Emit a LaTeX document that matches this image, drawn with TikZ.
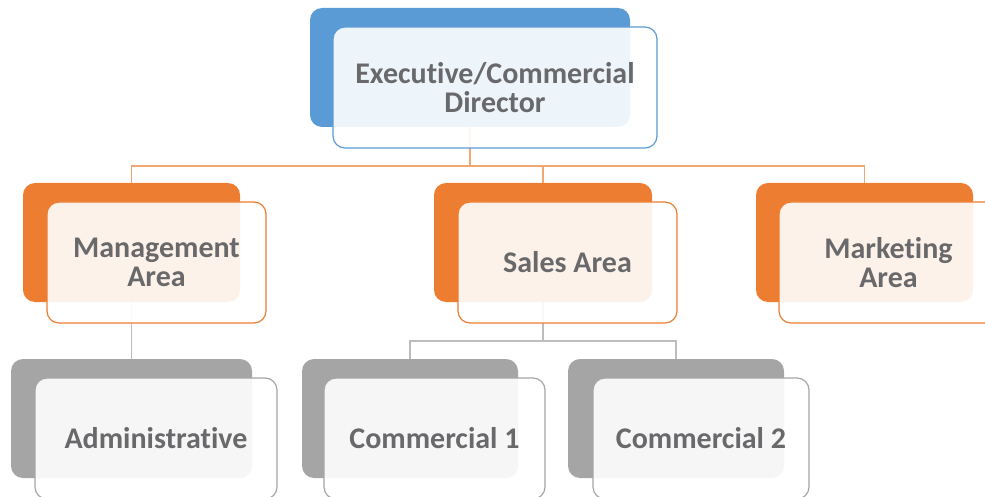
\documentclass[tikz,border=0pt]{standalone}
\usepackage{fontspec}
\setmainfont{Carlito}[Ligatures={NoCommon}]

\definecolor{accblue}{HTML}{5B9BD5}
\definecolor{accorange}{HTML}{ED7D31}
\definecolor{accgray}{HTML}{A5A5A5}
\definecolor{lineorange}{HTML}{F2A672}
\definecolor{linegray}{HTML}{BDBDBD}
\definecolor{txtgray}{HTML}{69696C}

\tikzset{
  backbox/.style={rounded corners=12pt, inner sep=0pt,
    minimum width=217pt, minimum height=119pt},
  frontbox/.style={rounded corners=12pt, draw, line width=1.2pt,
    fill=white, fill opacity=0.9, text opacity=1, text=txtgray,
    minimum width=219pt, minimum height=121pt, align=center,
    font=\bfseries\fontsize{30}{29}\selectfont},
  orangeline/.style={draw=lineorange, line width=1.5pt},
  grayline/.style={draw=linegray, line width=1.5pt}
}

\begin{document}
\begin{tikzpicture}[x=1pt,y=-1pt]
%\draw[step=50,gray,very thin] (0,0) grid (985,497);
\useasboundingbox (0,0) rectangle (985,497);
% coloured boxes at the back
\node[backbox, fill=accblue, minimum width=320pt] (dirB) at (470,67.5) {};
\node[backbox, fill=accorange] (mgmtB) at (131.5,242.5) {};
\node[backbox, fill=accorange, minimum width=218pt] (salesB) at (543,242.5) {};
\node[backbox, fill=accorange] (mktB) at (864.5,242.5) {};
\node[backbox, fill=accgray, minimum width=241pt] (admB) at (131.5,418.5) {};
\node[backbox, fill=accgray, minimum width=216pt] (com1B) at (410,418.5) {};
\node[backbox, fill=accgray, minimum width=216pt] (com2B) at (676,418.5) {};
% connectors
\draw[orangeline] (dirB.south) -- ++(0,39) -| (mgmtB.north);
\draw[orangeline] (dirB.south) -- ++(0,39) -| (salesB.north);
\draw[orangeline] (dirB.south) -- ++(0,39) -| (mktB.north);
\draw[grayline] (mgmtB.south) -- (admB.north);
\draw[grayline] (salesB.south) -- ++(0,39) -| (com1B.north);
\draw[grayline] (salesB.south) -- ++(0,39) -| (com2B.north);
% text boxes in front
\node[frontbox, draw=accblue, minimum width=324pt] (dir) at (495,87.5) {Executive/Commercial\\Director};
\node[frontbox, draw=accorange] (mgmt) at (156.5,262.5) {Management\\Area};
\node[frontbox, draw=accorange] (sales) at (567.5,262.5) {Sales Area};
\node[frontbox, draw=accorange] (mkt) at (888.5,262.5) {Marketing\\Area};
\node[frontbox, draw=accgray, minimum width=242pt] (adm) at (156,438.5) {Administrative};
\node[frontbox, draw=accgray, minimum width=221pt] (com1) at (434.5,438.5) {Commercial 1};
\node[frontbox, draw=accgray, minimum width=216pt] (com2) at (701,438.5) {Commercial 2};
\end{tikzpicture}
\end{document}
